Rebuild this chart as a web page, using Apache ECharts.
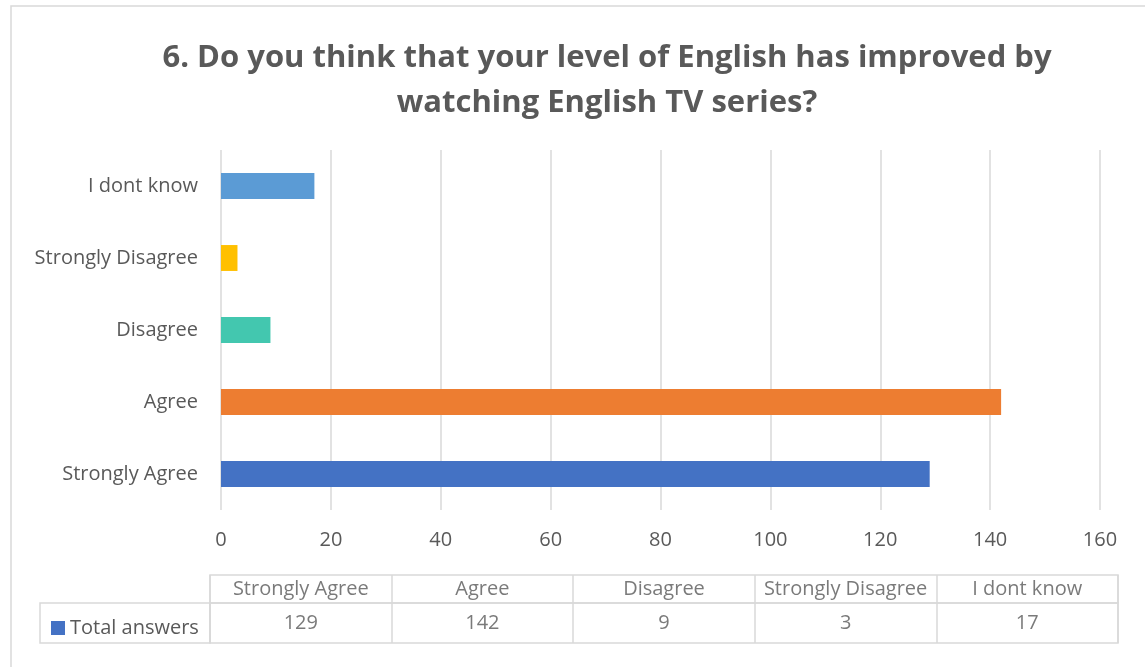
<!DOCTYPE html>
<html>
<head>
<meta charset="utf-8">
<script src="https://cdn.jsdelivr.net/npm/echarts@6/dist/echarts.min.js"></script>
<style>
  html, body { margin: 0; padding: 0; background: #fff; }
  #main { width: 1145px; height: 667px; }
</style>
</head>
<body>
<div id="main"></div>
<script>
var titleText = '6. Do you think that your level of English has improved by\nwatching English TV series?';
var categories = ['Strongly Agree', 'Agree', 'Disagree', 'Strongly Disagree', 'I dont know'];
var totalAnswers = [129, 142, 9, 3, 17];
var barColors = ['#4472C4', '#ED7D31', '#43C7AF', '#FFC000', '#5B9BD5'];
var xTicks = [0, 20, 40, 60, 80, 100, 120, 140, 160];

var font = 'Open Sans';
var textColor = '#595959';
var lineColor = '#d9d9d9';
var labelSize = 20;

var myChart = echarts.init(document.getElementById('main'));

var barData = totalAnswers.map(function (v, i) {
    return { value: v, itemStyle: { color: barColors[i] } };
});

option = {
    backgroundColor: '#fff',
    animation: false,
    title: {
        text: titleText,
        left: 602,
        textAlign: 'center',
        top: 31,
        textStyle: {
            fontFamily: font,
            fontSize: 31,
            fontWeight: 'bold',
            color: textColor,
            lineHeight: 45
        }
    },
    legend: {
        data: ['Total answers'],
        left: 46,
        top: 613,
        icon: 'rect',
        itemWidth: 14,
        itemHeight: 14,
        itemGap: 4,
        textStyle: { fontFamily: font, fontSize: labelSize, color: textColor },
        selectedMode: false
    },
    graphic: [
        {
            type: 'rect',
            shape: { x: 11, y: 6, width: 1150, height: 680 },
            style: { fill: 'none', stroke: lineColor, lineWidth: 1.5 },
            silent: true
        },
        {
            type: 'rect',
            shape: { x: 40, y: 603, width: 170, height: 40 },
            style: { fill: 'none', stroke: lineColor, lineWidth: 1.5 },
            silent: true
        }
    ],
    grid: [
        { left: 221, right: 45, top: 150, bottom: 157 },
        { left: 210, right: 27, top: 575, height: 28, show: true, borderColor: lineColor, borderWidth: 1.5 },
        { left: 210, right: 27, top: 603, height: 40, show: true, borderColor: lineColor, borderWidth: 1.5 }
    ],
    xAxis: [
        {
            gridIndex: 0,
            type: 'value',
            min: xTicks[0],
            max: xTicks[xTicks.length - 1],
            interval: 20,
            axisLine: { show: false },
            axisTick: { show: false },
            axisLabel: { fontFamily: font, fontSize: labelSize, color: textColor, margin: 20 },
            splitLine: { lineStyle: { color: lineColor, width: 1.5 } }
        },
        {
            gridIndex: 1,
            type: 'category',
            data: categories,
            axisLine: { show: false },
            axisTick: { show: false },
            axisLabel: { show: false },
            splitLine: { show: true, lineStyle: { color: lineColor, width: 1.5 } }
        },
        {
            gridIndex: 2,
            type: 'category',
            data: categories,
            axisLine: { show: false },
            axisTick: { show: false },
            axisLabel: { show: false },
            splitLine: { show: true, lineStyle: { color: lineColor, width: 1.5 } }
        }
    ],
    yAxis: [
        {
            gridIndex: 0,
            type: 'category',
            data: categories,
            axisLine: { show: false },
            axisTick: { show: false },
            axisLabel: { fontFamily: font, fontSize: labelSize, color: textColor, margin: 23 },
            splitLine: { show: false }
        },
        { gridIndex: 1, type: 'value', min: 0, max: 1, show: false },
        { gridIndex: 2, type: 'value', min: 0, max: 1, show: false }
    ],
    series: [
        {
            name: 'Total answers',
            type: 'bar',
            xAxisIndex: 0,
            yAxisIndex: 0,
            barWidth: '36%',
            itemStyle: { color: '#4472C4' },
            data: barData
        },
        {
            type: 'scatter',
            xAxisIndex: 1,
            yAxisIndex: 1,
            symbolSize: 0,
            silent: true,
            data: categories.map(function (c) { return [c, 0.5]; }),
            label: {
                show: true,
                position: 'inside',
                formatter: function (p) { return p.value[0]; },
                fontFamily: font, fontSize: labelSize, color: textColor
            }
        },
        {
            type: 'scatter',
            xAxisIndex: 2,
            yAxisIndex: 2,
            symbolSize: 0,
            silent: true,
            data: categories.map(function (c, i) { return [c, 0.5, totalAnswers[i]]; }),
            label: {
                show: true,
                position: 'inside',
                formatter: function (p) { return String(p.value[2]); },
                fontFamily: font, fontSize: labelSize, color: textColor
            }
        }
    ]
};
myChart.setOption(option);
</script>
</body>
</html>
